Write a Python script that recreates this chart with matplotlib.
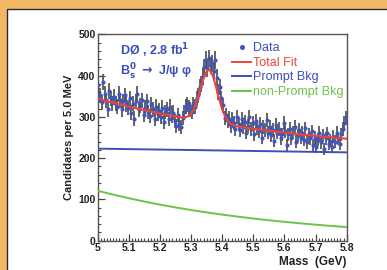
import numpy as np
import matplotlib
matplotlib.use("Agg")
import matplotlib.pyplot as plt
from matplotlib.patches import Rectangle
from matplotlib.ticker import MultipleLocator, FixedLocator

# ---------------- data ----------------
bin_lo = 5.0
bin_width = 0.005
counts = [
    378, 352, 335, 384, 356, 340, 318, 362, 345, 333,
    348, 332, 325, 355, 340, 318, 338, 352, 330, 322,
    345, 310, 332, 296, 338, 355, 318, 328, 340, 305,
    322, 338, 312, 302, 330, 318, 295, 325, 308, 315,
    300, 322, 288, 312, 318, 295, 325, 302, 310, 290,
    278, 305, 282, 275, 298, 312, 325, 330, 322, 318,
    312, 330, 325, 345, 352, 372, 380, 398, 420, 438,
    418, 442, 425, 430, 410, 438, 395, 360, 372, 345,
    328, 298, 305, 290, 296, 278, 295, 285, 270, 300,
    282, 268, 295, 275, 288, 262, 278, 300, 270, 285,
    258, 290, 272, 265, 282, 250, 276, 268, 292, 262,
    275, 255, 268, 242, 280, 262, 270, 248, 258, 285,
    265, 232, 258, 270, 248, 262, 275, 240, 255, 268,
    250, 262, 245, 272, 238, 258, 248, 265, 232, 250,
    228, 245, 262, 238, 255, 222, 248, 260, 235, 242,
    228, 252, 240, 262, 248, 235, 258, 270, 285, 298,
]

fit_mass = [5.00, 5.05, 5.10, 5.15, 5.20, 5.25, 5.27, 5.28, 5.29, 5.30,
            5.31, 5.32, 5.33, 5.34, 5.35, 5.36, 5.37, 5.38, 5.39, 5.40,
            5.41, 5.42, 5.43, 5.44, 5.45, 5.50, 5.55, 5.60, 5.65, 5.70,
            5.75, 5.80]
total_fit = [344.0, 334.0, 324.8, 316.1, 308.2, 300.8, 298.7, 298.8, 301.1, 307.7,
             320.8, 341.4, 367.7, 393.8, 411.4, 413.6, 399.2, 373.1, 343.6, 317.7,
             299.2, 287.9, 281.7, 278.4, 276.5, 271.1, 266.3, 261.9, 257.8, 253.9,
             250.4, 247.0]

prompt_mass = [5.0, 5.8]
prompt_bkg = [223.0, 214.0]

nonprompt_mass = [5.00, 5.05, 5.10, 5.15, 5.20, 5.25, 5.30, 5.35, 5.40, 5.45,
                  5.50, 5.55, 5.60, 5.65, 5.70, 5.75, 5.80]
nonprompt_bkg = [121.0, 111.6, 102.9, 94.8, 87.4, 80.6, 74.3, 68.5, 63.2, 58.3,
                 53.7, 49.5, 45.7, 42.1, 38.8, 35.8, 33.0]

legend_labels = ["Data", "Total Fit", "Prompt Bkg", "non-Prompt Bkg"]

# ---------------- style ----------------
ORANGE = "#F2B865"
BLUE_TXT = "#3A4FBF"
RED = "#EE4436"
BLUE = "#3F4FB8"
GREEN = "#6CC34A"
plt.rcParams["font.family"] = ["Liberation Sans", "DejaVu Sans"]
plt.rcParams["font.weight"] = "bold"

fig = plt.figure(figsize=(3.87, 2.70), dpi=100)
fig.patch.set_facecolor(ORANGE)
W, H = 387.0, 270.0
panel = Rectangle((7 / W, -0.1), 1.2, (270 - 9) / H + 0.1, transform=fig.transFigure,
                  facecolor="white", edgecolor="#2a2a2a", linewidth=1.0, zorder=-10)
fig.patches.append(panel)

ax = fig.add_axes([97.7 / W, (H - 240.7) / H, (346.7 - 97.7) / W, (240.7 - 34.3) / H])
ax.set_facecolor("white")
ax.set_zorder(1)

counts_arr = np.array(counts, dtype=float)
centers = bin_lo + bin_width * (np.arange(len(counts_arr)) + 0.5)
err = np.sqrt(counts_arr)

ax.errorbar(centers, counts_arr, yerr=err, fmt="none", ecolor="#4a4a4a",
            elinewidth=1.2, capsize=0, zorder=2)
ax.plot(centers, counts_arr, "o", color="#3E55C8", markersize=3.0,
        markeredgewidth=0, zorder=3)

ax.plot(fit_mass, total_fit, color=RED, lw=1.5, zorder=4)
ax.plot(prompt_mass, prompt_bkg, color=BLUE, lw=1.4, zorder=4)
ax.plot(nonprompt_mass, nonprompt_bkg, color=GREEN, lw=1.4, zorder=4)

ax.set_xlim(5.0, 5.8)
ax.set_ylim(0, 500)

ax.xaxis.set_major_locator(FixedLocator([5.0, 5.1, 5.2, 5.3, 5.4, 5.5, 5.6, 5.7, 5.8]))
ax.xaxis.set_minor_locator(MultipleLocator(0.01))
ax.yaxis.set_major_locator(MultipleLocator(100))
ax.yaxis.set_minor_locator(MultipleLocator(20))
ax.set_xticklabels(["5", "5.1", "5.2", "5.3", "5.4", "5.5", "5.6", "5.7", "5.8"])
ax.tick_params(axis="both", which="both", direction="in", top=False, right=False,
               colors="#444444", labelcolor="#222222", labelsize=7.5)
ax.tick_params(axis="both", which="major", length=5, width=0.9, pad=1.5)
ax.tick_params(axis="both", which="minor", length=2.5, width=0.8)
for s in ax.spines.values():
    s.set_color("#555555")
    s.set_linewidth(1.0)
for lbl in ax.get_xticklabels() + ax.get_yticklabels():
    lbl.set_fontweight("bold")

ax.set_ylabel("Candidates per 5.0 MeV", fontsize=8, fontweight="bold",
              color="#222222", labelpad=3)
ax.set_xlabel("Mass  (GeV)", fontsize=8.5, fontweight="bold", color="#222222",
              labelpad=1)
ax.xaxis.set_label_coords(1.0, -0.075)
ax.xaxis.label.set_horizontalalignment("right")

# annotations
ax.text(0.09, 0.92, r"DØ , 2.8 fb$^{\mathbf{1}}$", transform=ax.transAxes,
        fontsize=9, fontweight="bold", color=BLUE_TXT, va="center", ha="left")
ax.text(0.09, 0.82, r"B$_\mathbf{s}^\mathbf{0}$ $\rightarrow$ J/ψ φ",
        transform=ax.transAxes, fontsize=9, fontweight="bold", color=BLUE_TXT,
        va="center", ha="left")

# legend
leg = ax.legend(
    handles=[
        plt.Line2D([], [], ls="none", marker="o", color="#3E55C8", markersize=2.6),
        plt.Line2D([], [], color=RED, lw=1.4),
        plt.Line2D([], [], color=BLUE, lw=1.4),
        plt.Line2D([], [], color=GREEN, lw=1.4),
    ],
    labels=legend_labels, loc="upper left", bbox_to_anchor=(0.52, 0.985),
    frameon=False, fontsize=9, handlelength=1.5, handletextpad=0.2,
    labelspacing=0.2, borderaxespad=0.0)
for t, c in zip(leg.get_texts(), [BLUE_TXT, RED, BLUE_TXT, GREEN]):
    t.set_color(c)
    t.set_fontweight("normal")

fig.savefig("out.png", dpi=100, facecolor=fig.get_facecolor())
